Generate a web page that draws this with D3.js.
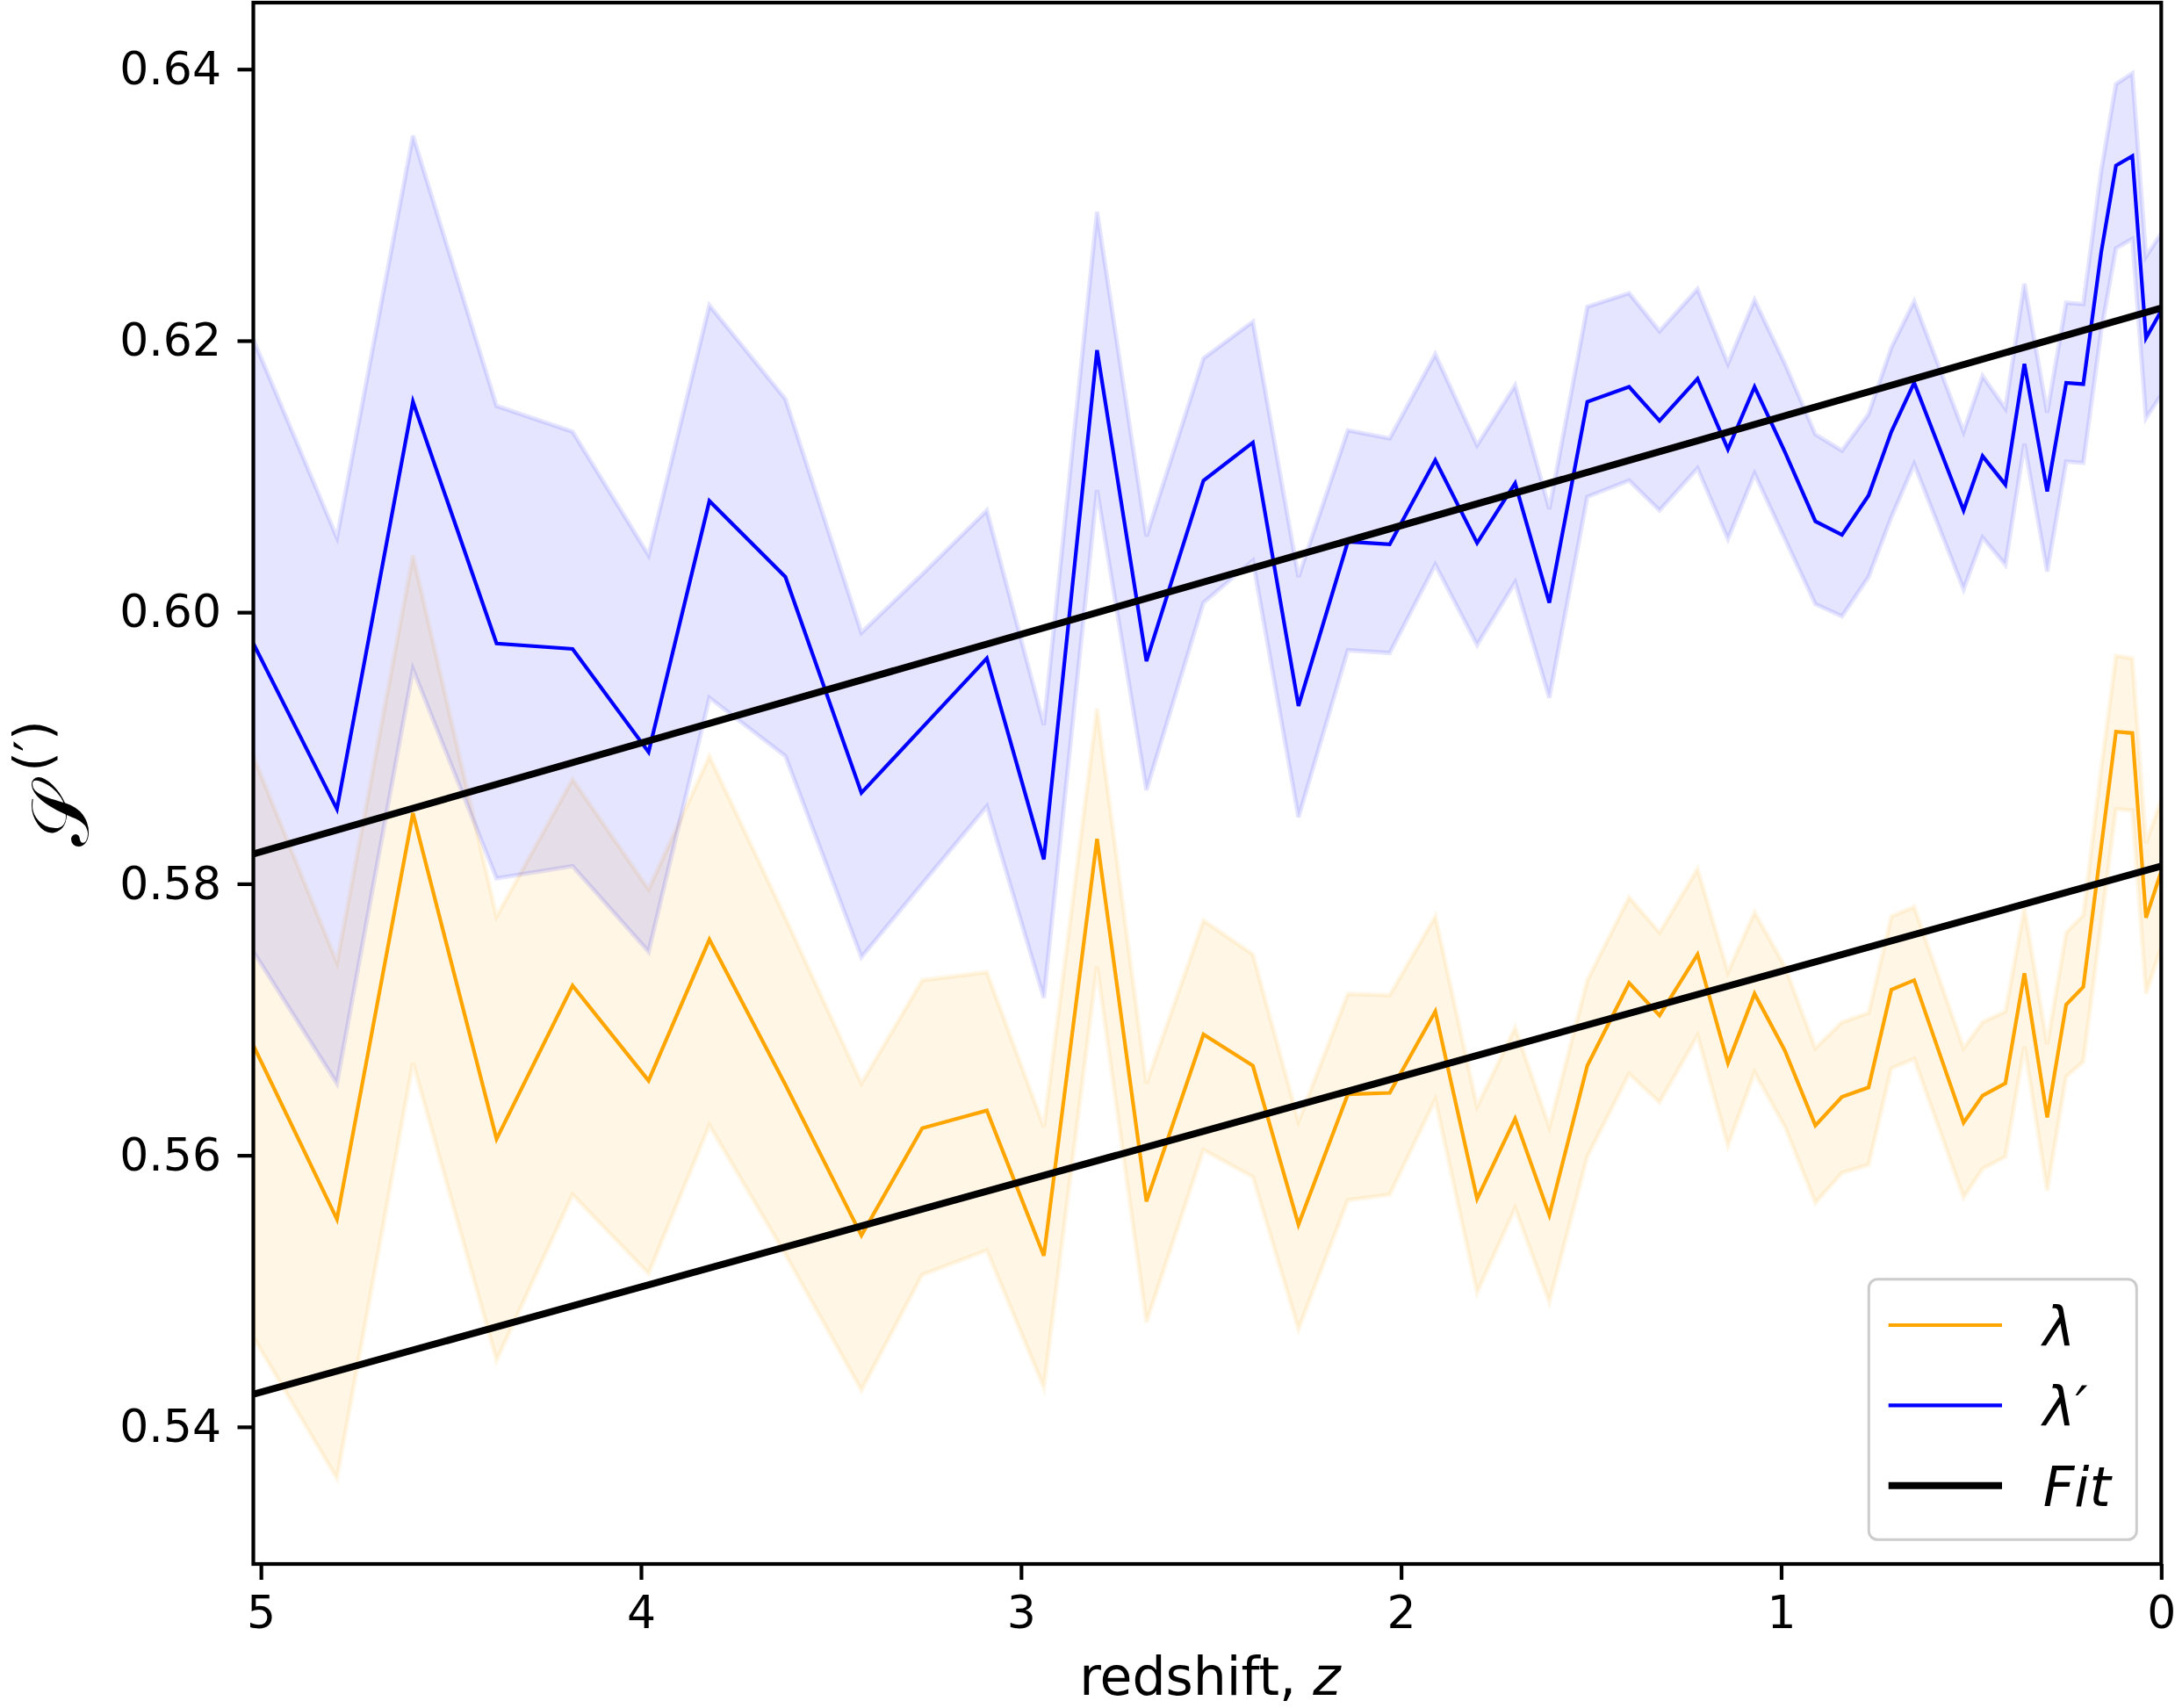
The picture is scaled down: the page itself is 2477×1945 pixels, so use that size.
<!DOCTYPE html>
<html>
<head>
<meta charset="utf-8">
<script src="https://cdn.jsdelivr.net/npm/d3@7"></script>
<style>
  body { margin: 0; background: #fff; }
</style>
</head>
<body>
<div id="chart"></div>
<script>
// redshift of each snapshot
var redshift = [5.02, 4.80, 4.60, 4.38, 4.18, 3.98, 3.82, 3.62, 3.42, 3.26,
                3.09, 2.94, 2.80, 2.67, 2.52, 2.39, 2.27, 2.14, 2.03, 1.91,
                1.80, 1.70, 1.61, 1.51, 1.40, 1.32, 1.22, 1.14, 1.07, 0.99,
                0.91, 0.84, 0.77, 0.71, 0.65, 0.52, 0.47, 0.41, 0.36, 0.30,
                0.25, 0.205, 0.158, 0.119, 0.076, 0.040, 0.0];

// lambda (orange): mean, lower and upper band
var lamMean = [0.5681, 0.5553, 0.5852, 0.5612, 0.5725, 0.5655, 0.5759, 0.5652, 0.5541, 0.5620,
               0.5633, 0.5526, 0.5833, 0.5566, 0.5689, 0.5666, 0.5549, 0.5645, 0.5646, 0.5706,
               0.5568, 0.5627, 0.5556, 0.5666, 0.5727, 0.5703, 0.5748, 0.5668, 0.5719, 0.5677,
               0.5622, 0.5643, 0.5650, 0.5722, 0.5729, 0.5624, 0.5644, 0.5653, 0.5734, 0.5628,
               0.5711, 0.5724, 0.5827, 0.5912, 0.5911, 0.5775, 0.5809];
var lamLo   = [0.5466, 0.5362, 0.5668, 0.5449, 0.5571, 0.5513, 0.5622, 0.5527, 0.5427, 0.5512,
               0.5530, 0.5429, 0.5739, 0.5477, 0.5604, 0.5584, 0.5472, 0.5567, 0.5571, 0.5641,
               0.5499, 0.5561, 0.5492, 0.5599, 0.5660, 0.5639, 0.5688, 0.5607, 0.5661, 0.5621,
               0.5565, 0.5587, 0.5593, 0.5664, 0.5671, 0.5569, 0.5590, 0.5599, 0.5680, 0.5574,
               0.5658, 0.5669, 0.5770, 0.5855, 0.5854, 0.5719, 0.5753];
var lamHi   = [0.5894, 0.5742, 0.6042, 0.5776, 0.5877, 0.5796, 0.5894, 0.5775, 0.5653, 0.5729,
               0.5735, 0.5621, 0.5929, 0.5653, 0.5773, 0.5748, 0.5625, 0.5719, 0.5718, 0.5776,
               0.5636, 0.5694, 0.5621, 0.5729, 0.5790, 0.5764, 0.5811, 0.5735, 0.5779, 0.5739,
               0.5679, 0.5698, 0.5705, 0.5776, 0.5783, 0.5679, 0.5698, 0.5706, 0.5782, 0.5682,
               0.5764, 0.5777, 0.5885, 0.5968, 0.5966, 0.5830, 0.5862];

// lambda prime (blue): mean, lower and upper band
var lamPMean = [0.5977, 0.5855, 0.6155, 0.5977, 0.5973, 0.5897, 0.6082, 0.6026, 0.5867, 0.5915,
                0.5966, 0.5818, 0.6193, 0.5964, 0.6097, 0.6125, 0.5931, 0.6052, 0.6050, 0.6112,
                0.6051, 0.6095, 0.6007, 0.6155, 0.6166, 0.6141, 0.6172, 0.6120, 0.6166, 0.6118,
                0.6067, 0.6057, 0.6086, 0.6133, 0.6169, 0.6075, 0.6115, 0.6094, 0.6183, 0.6089,
                0.6169, 0.6168, 0.6265, 0.6329, 0.6336, 0.6202, 0.6222];
var lamPLo   = [0.5750, 0.5653, 0.5958, 0.5804, 0.5813, 0.5750, 0.5937, 0.5894, 0.5746, 0.5800,
                0.5857, 0.5716, 0.6090, 0.5869, 0.6007, 0.6038, 0.5849, 0.5972, 0.5970, 0.6035,
                0.5976, 0.6022, 0.5937, 0.6085, 0.6097, 0.6075, 0.6106, 0.6054, 0.6102, 0.6054,
                0.6006, 0.5997, 0.6026, 0.6070, 0.6109, 0.6017, 0.6055, 0.6035, 0.6124, 0.6030,
                0.6111, 0.6110, 0.6207, 0.6268, 0.6275, 0.6143, 0.6160];
var lamPHi   = [0.6201, 0.6055, 0.6351, 0.6152, 0.6133, 0.6042, 0.6226, 0.6157, 0.5985, 0.6028,
                0.6075, 0.5917, 0.6295, 0.6056, 0.6187, 0.6214, 0.6026, 0.6134, 0.6128, 0.6190,
                0.6123, 0.6167, 0.6076, 0.6225, 0.6235, 0.6207, 0.6238, 0.6183, 0.6230, 0.6183,
                0.6131, 0.6119, 0.6146, 0.6195, 0.6229, 0.6133, 0.6174, 0.6150, 0.6242, 0.6147,
                0.6228, 0.6227, 0.6325, 0.6389, 0.6397, 0.6262, 0.6279];

// linear fits, given by their end points
var fitZ     = [5.02, 0];
var fitLam   = [0.5424, 0.5813];
var fitLamP  = [0.5822, 0.6224];

var xTicks = [5, 4, 3, 2, 1, 0];
var yTicks = [0.54, 0.56, 0.58, 0.60, 0.62, 0.64];

var legendLabels = ["λ", "λ′", "Fit"];
var legendColors = ["orange", "blue", "black"];

// set the dimensions and margins of the graph
var margin = {top: 3, right: 15.7, bottom: 164, left: 288.5},
    width = 2477 - margin.left - margin.right,
    height = 1945 - margin.top - margin.bottom;

var svg = d3.select("#chart")
  .append("svg")
    .attr("width", width + margin.left + margin.right)
    .attr("height", height + margin.top + margin.bottom)
    .style("display", "block")
  .append("g")
    .attr("transform", "translate(" + margin.left + "," + margin.top + ")");

var x = d3.scaleLinear()
  .domain([5.02, 0])
  .range([0, width]);

var y = d3.scaleLinear()
  .domain([0.5299, 0.6449])
  .range([height, 0]);

function rows(mean, lo, hi) {
  return redshift.map(function(z, i) {
    return {z: z, m: mean[i], lo: lo[i], hi: hi[i]};
  });
}
var lamData = rows(lamMean, lamLo, lamHi);
var lamPData = rows(lamPMean, lamPLo, lamPHi);

var band = d3.area()
  .x(function(d) { return x(d.z); })
  .y0(function(d) { return y(d.lo); })
  .y1(function(d) { return y(d.hi); });

var line = d3.line()
  .x(function(d) { return x(d.z); })
  .y(function(d) { return y(d.m); });

svg.append("clipPath").attr("id", "clip")
  .append("rect").attr("width", width).attr("height", height);

var plot = svg.append("g").attr("clip-path", "url(#clip)");

// orange band + line
plot.append("path").datum(lamData)
  .attr("d", band)
  .attr("fill", "orange").attr("fill-opacity", 0.1)
  .attr("stroke", "orange").attr("stroke-opacity", 0.1).attr("stroke-width", 5);
plot.append("path").datum(lamData)
  .attr("d", line)
  .attr("fill", "none").attr("stroke", "orange").attr("stroke-width", 4.2);

// blue band + line
plot.append("path").datum(lamPData)
  .attr("d", band)
  .attr("fill", "blue").attr("fill-opacity", 0.1)
  .attr("stroke", "blue").attr("stroke-opacity", 0.1).attr("stroke-width", 5);
plot.append("path").datum(lamPData)
  .attr("d", line)
  .attr("fill", "none").attr("stroke", "blue").attr("stroke-width", 4.2);

// fits
[fitLam, fitLamP].forEach(function(f) {
  plot.append("path")
    .datum(fitZ.map(function(z, i) { return {z: z, m: f[i]}; }))
    .attr("d", line)
    .attr("fill", "none").attr("stroke", "black").attr("stroke-width", 8);
});

// axes
var xAxis = svg.append("g")
  .attr("transform", "translate(0," + height + ")")
  .call(d3.axisBottom(x).tickValues(xTicks).tickFormat(d3.format("d"))
        .tickSize(18).tickPadding(18));
var yAxis = svg.append("g")
  .call(d3.axisLeft(y).tickValues(yTicks).tickFormat(d3.format(".2f"))
        .tickSize(18).tickPadding(18.5));

[xAxis, yAxis].forEach(function(a) {
  a.select(".domain").remove();
  a.selectAll("line").attr("stroke", "black").attr("stroke-width", 4.2);
  a.selectAll("text")
    .attr("font-family", "DejaVu Sans")
    .attr("font-size", 52)
    .attr("fill", "black");
});

// frame
svg.append("rect")
  .attr("width", width).attr("height", height)
  .attr("fill", "none").attr("stroke", "black").attr("stroke-width", 4.2);

// x label
var xl = svg.append("text")
  .attr("x", width / 2 + 3)
  .attr("y", height + 149)
  .attr("text-anchor", "middle")
  .attr("font-family", "DejaVu Sans")
  .attr("font-size", 60);
xl.append("tspan").text("redshift, ");
xl.append("tspan").attr("font-style", "italic").text("z");

// y label
var yl = svg.append("text")
  .attr("transform", "translate(" + (100 - margin.left) + "," + (height / 2) + ") rotate(-90)")
  .attr("text-anchor", "middle")
  .attr("font-family", "DejaVu Serif, DejaVu Sans")
  .attr("font-size", 92);
yl.append("tspan").text("𝒮");
yl.append("tspan").attr("font-size", 58).attr("dx", 14).attr("dy", -42)
  .attr("font-family", "DejaVu Sans").text("(′)");

// legend
var legend = svg.append("g")
  .attr("transform", "translate(" + (2128.3 - margin.left) + "," + (1456.7 - margin.top) + ")");
legend.append("rect")
  .attr("width", 305).attr("height", 296.6)
  .attr("rx", 10).attr("ry", 10)
  .attr("fill", "white").attr("fill-opacity", 0.8)
  .attr("stroke", "#cccccc").attr("stroke-width", 3);

legendLabels.forEach(function(lab, i) {
  var ly = 52.3 + i * 91.4;
  legend.append("line")
    .attr("x1", 22.4).attr("x2", 151.7)
    .attr("y1", ly).attr("y2", ly)
    .attr("stroke", legendColors[i])
    .attr("stroke-width", i === 2 ? 8 : 4.2);
  legend.append("text")
    .attr("x", 198.4).attr("y", ly + 23)
    .attr("font-family", "DejaVu Sans")
    .attr("font-style", "italic")
    .attr("font-size", 62)
    .text(lab);
});
</script>
</body>
</html>
